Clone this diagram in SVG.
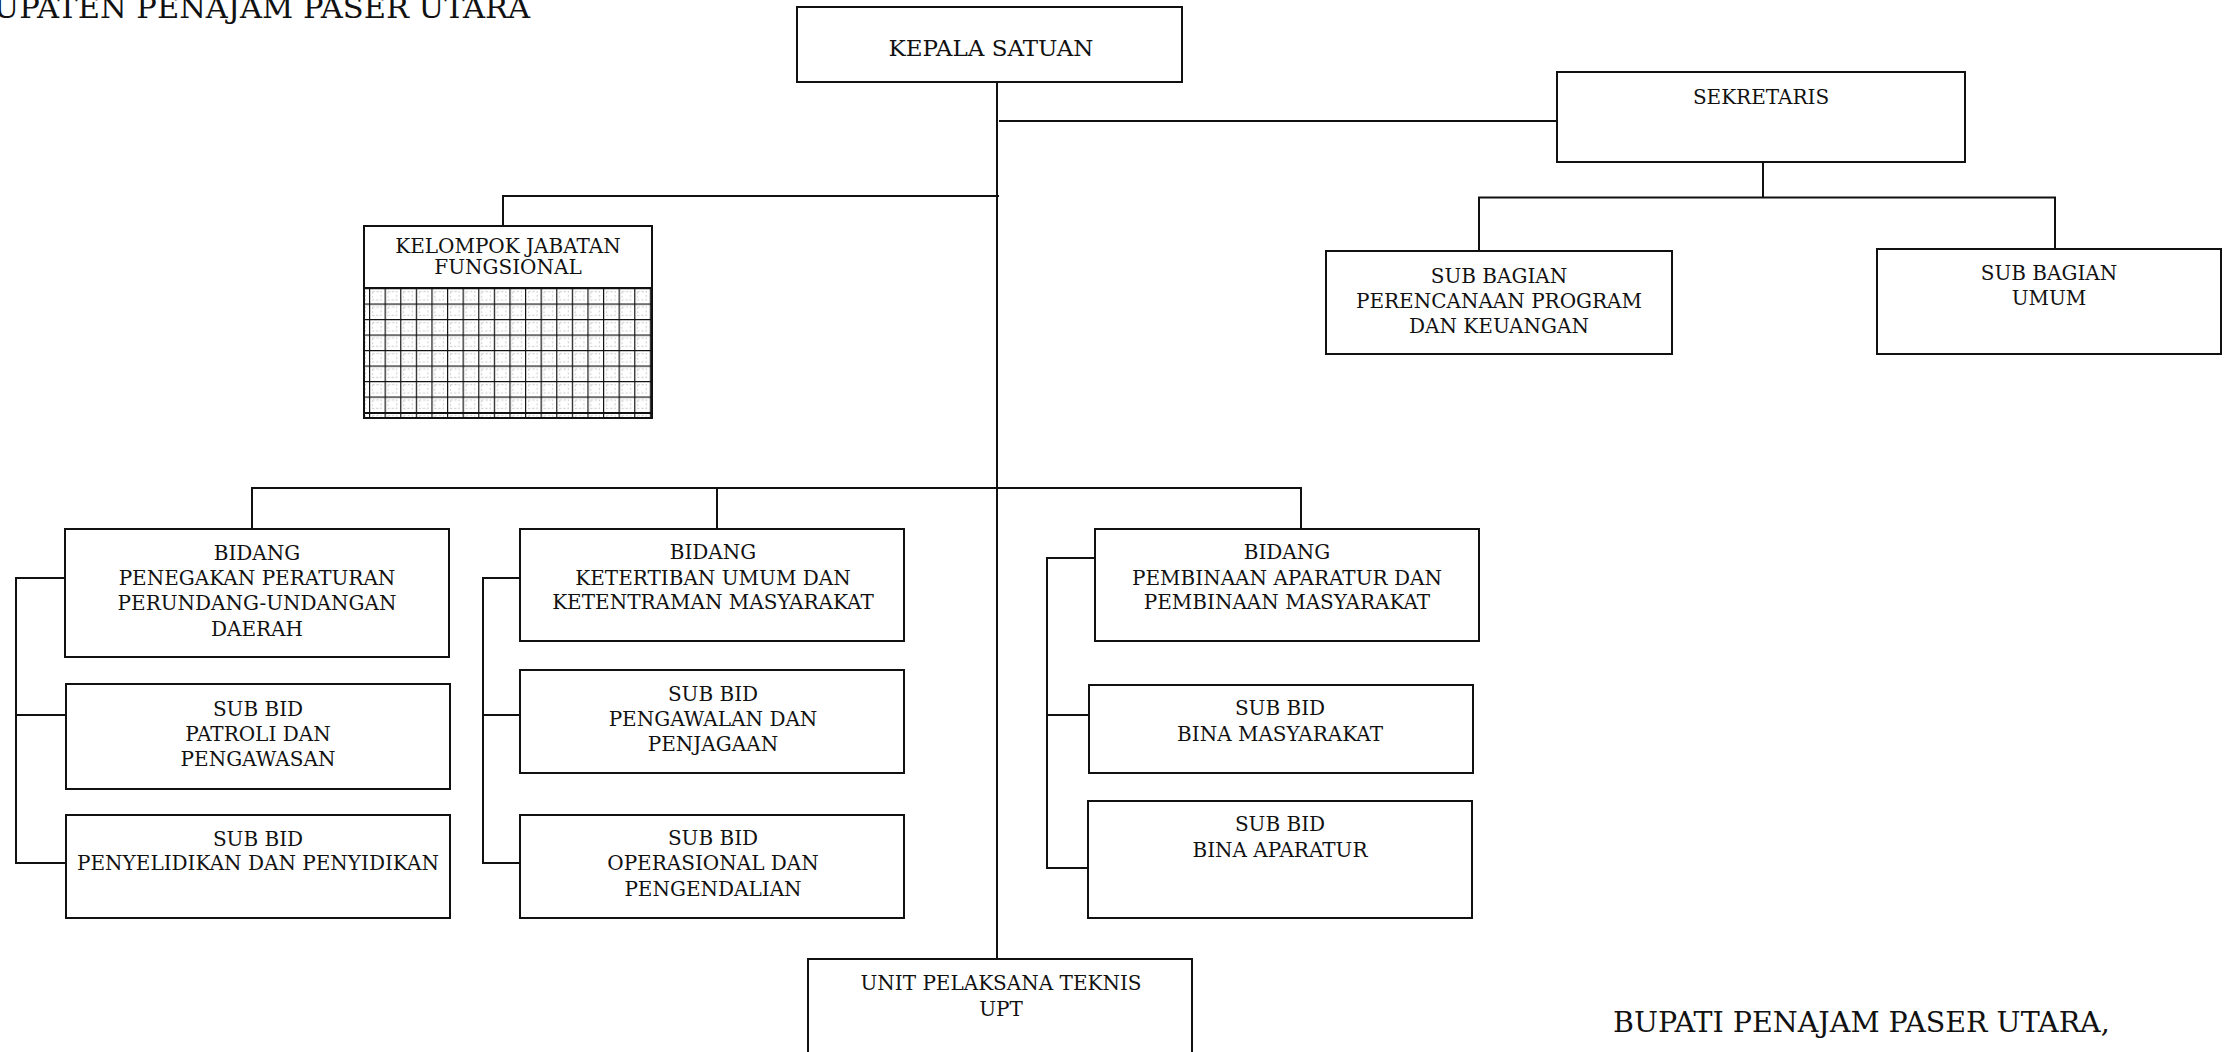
<svg xmlns="http://www.w3.org/2000/svg" width="2228" height="1052" viewBox="0 0 2228 1052">
<style>
.box{fill:#fff;stroke:#111;stroke-width:2}
.t{font-family:"DejaVu Serif","Liberation Serif",serif;font-size:20px;fill:#111;text-anchor:middle}
.big{font-size:23px}
.ttl{font-family:"DejaVu Serif","Liberation Serif",serif;fill:#111}
.conn path{stroke:#111;stroke-width:2;fill:none}
</style>
<defs>
<pattern id="grid" patternUnits="userSpaceOnUse" x="369" y="288" width="15.6" height="15.5">
<rect x="0" y="0" width="15.6" height="15.5" fill="#fff"/>
<rect x="3.5" y="3.5" width="8.6" height="8.5" fill="none" stroke="#cfcfcf" stroke-width="1" stroke-dasharray="2 2"/>
<path d="M0 0V15.5M0 0H15.6" stroke="#111" stroke-width="2.4" fill="none"/>
</pattern>
</defs>
<rect width="2228" height="1052" fill="#fff"/>

<text class="ttl" x="530" y="18" font-size="30.5" text-anchor="end">KABUPATEN PENAJAM PASER UTARA</text>
<text class="ttl" x="1613" y="1032" font-size="28.5">BUPATI PENAJAM PASER UTARA,</text>

<g id="connectors" class="conn">
<path d="M997 82V959"/>
<path d="M999 121H1557"/>
<path d="M1763 162V197.5"/>
<path d="M1479 251.5V197.5H2055V249"/>
<path d="M999 196H503V226"/>
<path d="M252 529V488H1301V529"/>
<path d="M717 488V529"/>
<path d="M65 578H16V863H66M16 715H66"/>
<path d="M520 578H483V863H520M483 715H520"/>
<path d="M1095 558H1047V868H1088M1047 715H1089"/>
</g>

<g id="kepala-satuan">
<rect class="box" x="797" y="7" width="385" height="75"/>
<text class="t big" x="991" y="56">KEPALA SATUAN</text>
</g>

<g id="sekretaris">
<rect class="box" x="1557" y="72" width="408" height="90"/>
<text class="t" x="1761" y="104">SEKRETARIS</text>
</g>

<g id="sub-bagian-perencanaan">
<rect class="box" x="1326" y="251" width="346" height="103"/>
<text class="t" x="1499" y="283">SUB BAGIAN</text>
<text class="t" x="1499" y="308">PERENCANAAN PROGRAM</text>
<text class="t" x="1499" y="333">DAN KEUANGAN</text>
</g>

<g id="sub-bagian-umum">
<rect class="box" x="1877" y="249" width="344" height="105"/>
<text class="t" x="2049" y="280">SUB BAGIAN</text>
<text class="t" x="2049" y="305">UMUM</text>
</g>

<g id="kelompok-jabatan-fungsional">
<rect class="box" x="364" y="226" width="288" height="192"/>
<rect x="365" y="288" width="286" height="129" fill="url(#grid)"/>
<path d="M364 288H652M364 413H652" stroke="#111" stroke-width="2"/>
<rect x="364" y="226" width="288" height="192" fill="none" stroke="#111" stroke-width="2"/>
<text class="t" x="508" y="253" font-size="19.5">KELOMPOK JABATAN</text>
<text class="t" x="508" y="274" font-size="19.5">FUNGSIONAL</text>
</g>

<g id="bidang-penegakan">
<rect class="box" x="65" y="529" width="384" height="128"/>
<text class="t" x="257" y="560">BIDANG</text>
<text class="t" x="257" y="585">PENEGAKAN PERATURAN</text>
<text class="t" x="257" y="610">PERUNDANG-UNDANGAN</text>
<text class="t" x="257" y="636">DAERAH</text>
</g>

<g id="subbid-patroli">
<rect class="box" x="66" y="684" width="384" height="105"/>
<text class="t" x="258" y="716">SUB BID</text>
<text class="t" x="258" y="741">PATROLI DAN</text>
<text class="t" x="258" y="766">PENGAWASAN</text>
</g>

<g id="subbid-penyelidikan">
<rect class="box" x="66" y="815" width="384" height="103"/>
<text class="t" x="258" y="846">SUB BID</text>
<text class="t" x="258" y="870">PENYELIDIKAN DAN PENYIDIKAN</text>
</g>

<g id="bidang-ketertiban">
<rect class="box" x="520" y="529" width="384" height="112"/>
<text class="t" x="713" y="559">BIDANG</text>
<text class="t" x="713" y="585">KETERTIBAN UMUM DAN</text>
<text class="t" x="713" y="609">KETENTRAMAN MASYARAKAT</text>
</g>

<g id="subbid-pengawalan">
<rect class="box" x="520" y="670" width="384" height="103"/>
<text class="t" x="713" y="701">SUB BID</text>
<text class="t" x="713" y="726">PENGAWALAN DAN</text>
<text class="t" x="713" y="751">PENJAGAAN</text>
</g>

<g id="subbid-operasional">
<rect class="box" x="520" y="815" width="384" height="103"/>
<text class="t" x="713" y="845">SUB BID</text>
<text class="t" x="713" y="870">OPERASIONAL DAN</text>
<text class="t" x="713" y="896">PENGENDALIAN</text>
</g>

<g id="bidang-pembinaan">
<rect class="box" x="1095" y="529" width="384" height="112"/>
<text class="t" x="1287" y="559">BIDANG</text>
<text class="t" x="1287" y="585">PEMBINAAN APARATUR DAN</text>
<text class="t" x="1287" y="609">PEMBINAAN MASYARAKAT</text>
</g>

<g id="subbid-bina-masyarakat">
<rect class="box" x="1089" y="685" width="384" height="88"/>
<text class="t" x="1280" y="715">SUB BID</text>
<text class="t" x="1280" y="741">BINA MASYARAKAT</text>
</g>

<g id="subbid-bina-aparatur">
<rect class="box" x="1088" y="801" width="384" height="117"/>
<text class="t" x="1280" y="831">SUB BID</text>
<text class="t" x="1280" y="857">BINA APARATUR</text>
</g>

<g id="upt">
<rect class="box" x="808" y="959" width="384" height="110"/>
<text class="t" x="1001" y="990">UNIT PELAKSANA TEKNIS</text>
<text class="t" x="1001" y="1016">UPT</text>
</g>
</svg>
